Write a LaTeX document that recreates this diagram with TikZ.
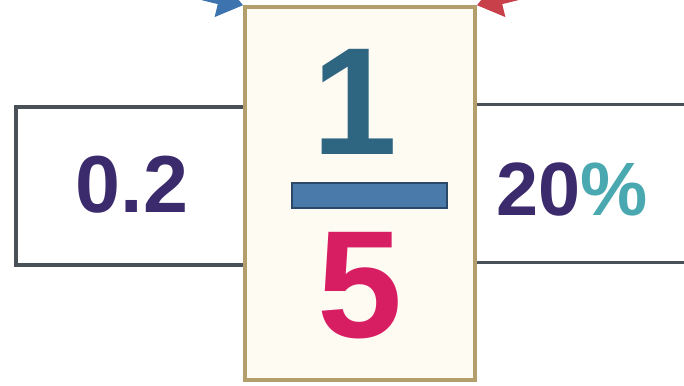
\documentclass[tikz,border=0pt]{standalone}
\usepackage{fontspec}
\setmainfont{Liberation Sans}
\usetikzlibrary{arrows.meta}
\definecolor{boxline}{HTML}{4A5058}
\definecolor{fracline}{HTML}{B49E6C}
\definecolor{fracfill}{HTML}{FEFBF3}
\definecolor{digit}{HTML}{3B2A6C}
\definecolor{pcttxt}{HTML}{4AA8B0}
\definecolor{numtxt}{HTML}{2E6682}
\definecolor{bardark}{HTML}{2A4868}
\definecolor{barblue}{HTML}{4A7AAA}
\definecolor{dentxt}{HTML}{D81E63}
\definecolor{arrowblue}{HTML}{3D74B0}
\definecolor{arrowred}{HTML}{C8404A}
\begin{document}
\begin{tikzpicture}[
    every node/.style={font=\bfseries, align=center},
    side/.style={rectangle, draw=boxline, line width=2.2pt, fill=white, minimum width=4.64cm, minimum height=3.16cm, inner sep=0pt},
    fracbox/.style={rectangle, draw=fracline, line width=2pt, fill=fracfill, minimum width=4.6cm, minimum height=7.46cm, inner sep=0pt},
    big/.style={font=\fontsize{87}{87}\selectfont\bfseries, inner sep=0pt},
    mid/.style={font=\fontsize{46}{46}\selectfont\bfseries, inner sep=0pt},
    barbox/.style={rectangle, draw=bardark, fill=barblue, line width=1pt, minimum width=3.1cm, minimum height=0.5cm, inner sep=0pt},
    tip/.style={line width=2mm, -{Triangle[length=5mm,width=7mm]}}
]
\useasboundingbox (0,0) rectangle (13.68,-7.7);
\clip (0,0) rectangle (13.68,-7.7);
\node[side] (dec) at (2.64,-3.72) {};
\node[side] (pct) at (11.62,-3.67) {};
\node[fracbox] (frac) at (7.2,-3.87) {};
\node[mid, text=digit] (decv) at (2.64,-3.7) {0.2};
\node[mid, font=\fontsize{43}{43}\selectfont\bfseries] (pctv) at (11.44,-3.78) {\textcolor{digit}{20}\textcolor{pcttxt}{\%}};
\node[big, text=numtxt] (num) at (7.1,-2.03) {1};
\node[barbox] (bar) at (7.39,-3.91) {};
\node[big, text=dentxt] (den) at (7.2,-5.72) {5};
\coordinate (bsrc) at (1.6,0.7);
\coordinate (rsrc) at (12.8,0.7);
\draw[tip, arrowblue] (bsrc) -- (frac.north west);
\draw[tip, arrowred] (rsrc) -- (frac.north east);
\end{tikzpicture}
\end{document}
